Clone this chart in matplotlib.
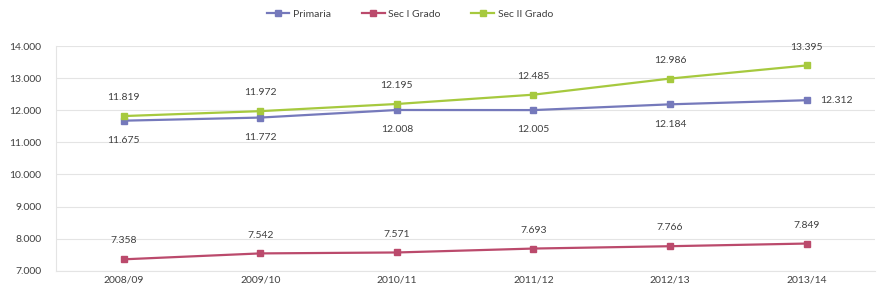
import matplotlib.pyplot as plt
from matplotlib.ticker import FuncFormatter

years = ["2008/09", "2009/10", "2010/11", "2011/12", "2012/13", "2013/14"]
primaria = [11675, 11772, 12008, 12005, 12184, 12312]
sec_i = [7358, 7542, 7571, 7693, 7766, 7849]
sec_ii = [11819, 11972, 12195, 12485, 12986, 13395]


def fmt(v):
    return f"{v:,.0f}".replace(",", ".")


plt.rcParams['font.family'] = ['Lato', 'DejaVu Sans']
text_col = "#404040"

fig = plt.figure(figsize=(8.81, 2.95), dpi=100)
ax = fig.add_axes([0.063, 0.082, 0.93, 0.762])

x = list(range(len(years)))
ax.plot(x, primaria, color="#7579bb", lw=1.6, marker="s", ms=5, label="Primaria")
ax.plot(x, sec_i, color="#bb4a6c", lw=1.6, marker="s", ms=5, label="Sec I Grado")
ax.plot(x, sec_ii, color="#a6c93e", lw=1.6, marker="s", ms=5, label="Sec II Grado")

# Data labels
for i, v in enumerate(sec_ii):
    ax.annotate(fmt(v), (i, v), xytext=(0, 10), textcoords="offset points",
                ha="center", va="bottom", fontsize=7.5, color=text_col)
for i, v in enumerate(sec_i):
    ax.annotate(fmt(v), (i, v), xytext=(0, 10), textcoords="offset points",
                ha="center", va="bottom", fontsize=7.5, color=text_col)
for i, v in enumerate(primaria):
    if i == len(primaria) - 1:
        ax.annotate(fmt(v), (i, v), xytext=(10, 0), textcoords="offset points",
                    ha="left", va="center", fontsize=7.5, color=text_col)
    else:
        ax.annotate(fmt(v), (i, v), xytext=(0, -11), textcoords="offset points",
                    ha="center", va="top", fontsize=7.5, color=text_col)

ax.set_xlim(-0.5, len(years) - 0.5)
ax.set_ylim(7000, 14000)
ax.set_yticks(range(7000, 14001, 1000))
ax.yaxis.set_major_formatter(FuncFormatter(lambda v, p: fmt(v)))
ax.set_xticks(x)
ax.set_xticklabels(years)
ax.tick_params(axis="both", length=0, labelsize=7.5, labelcolor=text_col)
ax.tick_params(axis="y", pad=10)
ax.grid(axis="y", color="#e4e4e4", lw=0.8)
ax.set_axisbelow(True)
for s in ["top", "right"]:
    ax.spines[s].set_visible(False)
ax.spines["left"].set_color("#e4e4e4")
ax.spines["bottom"].set_color("#e4e4e4")

fig.legend(loc="upper center", bbox_to_anchor=(0.465, 1.0), ncol=3, frameon=False,
           fontsize=7.5, labelcolor=text_col, handlelength=2.2, columnspacing=3,
           handletextpad=0.3, markerscale=0.8)

fig.savefig("out.png", dpi=100)
